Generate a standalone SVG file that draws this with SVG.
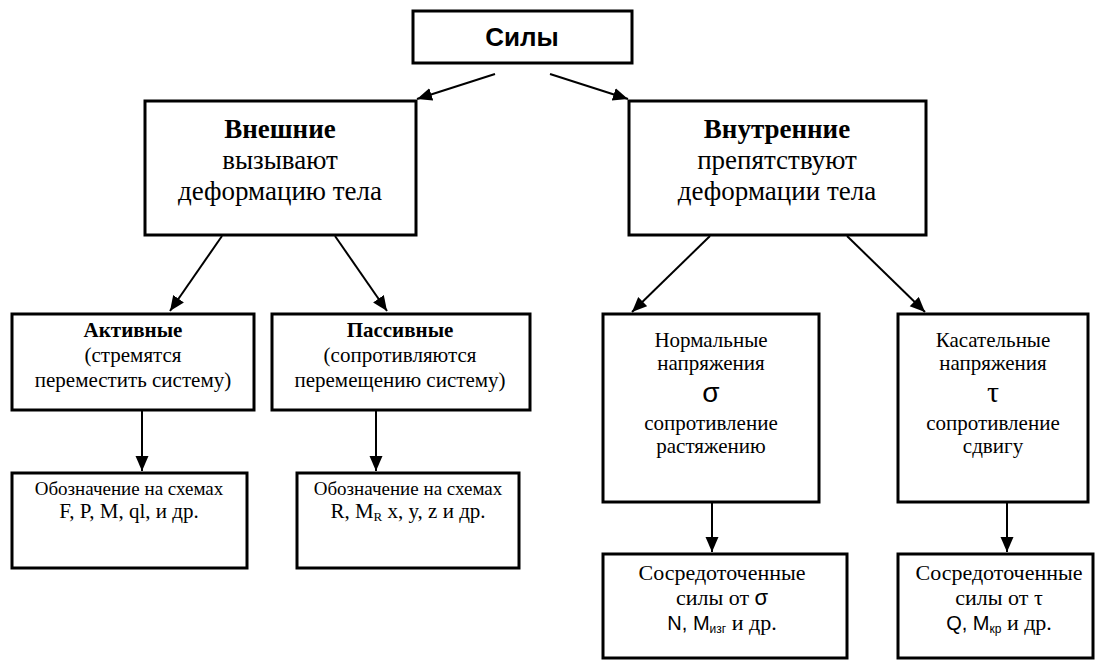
<svg xmlns="http://www.w3.org/2000/svg" width="1111" height="661" viewBox="0 0 1111 661">
<style>
.box{fill:#fff;stroke:#000;stroke-width:3}
.con{stroke:#000;stroke-width:2;fill:none}
</style>
<defs>
<marker id="ah" markerUnits="userSpaceOnUse" markerWidth="16" markerHeight="14" refX="15" refY="6.5" orient="auto">
<path d="M0,0 L15,6.5 L0,13 z" fill="#000"/>
</marker>
</defs>
<rect width="1111" height="661" fill="#fff"/>
<g id="connectors">
<line class="con" x1="495" y1="74" x2="417" y2="99" marker-end="url(#ah)"/>
<line class="con" x1="550" y1="74" x2="628" y2="99" marker-end="url(#ah)"/>
<line class="con" x1="222" y1="236" x2="170" y2="311" marker-end="url(#ah)"/>
<line class="con" x1="335" y1="236" x2="387" y2="311" marker-end="url(#ah)"/>
<line class="con" x1="710" y1="236" x2="632" y2="312" marker-end="url(#ah)"/>
<line class="con" x1="847" y1="236" x2="925" y2="312" marker-end="url(#ah)"/>
<line class="con" x1="142" y1="411" x2="142" y2="471" marker-end="url(#ah)"/>
<line class="con" x1="376" y1="411" x2="376" y2="471" marker-end="url(#ah)"/>
<line class="con" x1="712" y1="503" x2="712" y2="552" marker-end="url(#ah)"/>
<line class="con" x1="1007" y1="503" x2="1007" y2="552" marker-end="url(#ah)"/>
</g>
<g id="vneshnie">
<rect class="box" x="145" y="101" width="271" height="134"/>
<text x="280" y="138" font-size="27" font-family="'Liberation Serif', Tinos, 'Noto Serif', 'DejaVu Serif', serif" text-anchor="middle"><tspan font-weight="bold">Внешние</tspan><tspan x="280" dy="31">вызывают</tspan><tspan x="280" dy="31">деформацию тела</tspan></text>
</g>
<g id="vnutrennie">
<rect class="box" x="629" y="101" width="297" height="134"/>
<text x="777" y="138" font-size="27" font-family="'Liberation Serif', Tinos, 'Noto Serif', 'DejaVu Serif', serif" text-anchor="middle"><tspan font-weight="bold">Внутренние</tspan><tspan x="777" dy="31">препятствуют</tspan><tspan x="777" dy="31">деформации тела</tspan></text>
</g>
<g id="aktivnye">
<rect class="box" x="12" y="314" width="242" height="96"/>
<text x="133" y="337" font-size="21" font-family="'Liberation Serif', Tinos, 'Noto Serif', 'DejaVu Serif', serif" text-anchor="middle"><tspan font-weight="bold">Активные</tspan><tspan x="133" dy="25">(стремятся</tspan><tspan x="133" dy="25">переместить систему)</tspan></text>
</g>
<g id="passivnye">
<rect class="box" x="272" y="314" width="258" height="96"/>
<text x="400" y="337" font-size="21" font-family="'Liberation Serif', Tinos, 'Noto Serif', 'DejaVu Serif', serif" text-anchor="middle"><tspan font-weight="bold">Пассивные</tspan><tspan x="400" dy="25">(сопротивляются</tspan><tspan x="400" dy="25">перемещению систему)</tspan></text>
</g>
<g id="normalnye">
<rect class="box" x="603" y="314" width="216" height="188"/>
<text x="711" y="347" font-size="21" font-family="'Liberation Serif', Tinos, 'Noto Serif', 'DejaVu Serif', serif" text-anchor="middle"><tspan>Нормальные</tspan><tspan x="711" dy="23">напряжения</tspan><tspan x="711" dy="32" font-family="'Liberation Sans', sans-serif" font-size="28">σ</tspan><tspan x="711" dy="28">сопротивление</tspan><tspan x="711" dy="23">растяжению</tspan></text>
</g>
<g id="kasatelnye">
<rect class="box" x="898" y="314" width="190" height="188"/>
<text x="993" y="347" font-size="21" font-family="'Liberation Serif', Tinos, 'Noto Serif', 'DejaVu Serif', serif" text-anchor="middle"><tspan>Касательные</tspan><tspan x="993" dy="23">напряжения</tspan><tspan x="993" dy="32" font-size="30">τ</tspan><tspan x="993" dy="28">сопротивление</tspan><tspan x="993" dy="23">сдвигу</tspan></text>
</g>
<g id="oboz1">
<rect class="box" x="12" y="473" width="235" height="95"/>
<text x="129" y="495" font-size="21" font-family="'Liberation Serif', Tinos, 'Noto Serif', 'DejaVu Serif', serif" text-anchor="middle"><tspan font-size="19">Обозначение на схемах</tspan><tspan x="129" dy="23">F, P, M, ql, и др.</tspan></text>
</g>
<g id="oboz2">
<rect class="box" x="297" y="473" width="222" height="95"/>
<text x="408" y="495" font-size="21" font-family="'Liberation Serif', Tinos, 'Noto Serif', 'DejaVu Serif', serif" text-anchor="middle"><tspan font-size="19">Обозначение на схемах</tspan><tspan x="408" dy="23">R, M<tspan font-size="13" dy="3">R</tspan><tspan dy="-3"> x, y, z и др.</tspan></tspan></text>
</g>
<g id="sosr1">
<rect class="box" x="603" y="554" width="244" height="104"/>
<text x="722" y="580" font-size="22" font-family="'Liberation Serif', Tinos, 'Noto Serif', 'DejaVu Serif', serif" text-anchor="middle"><tspan>Сосредоточенные</tspan><tspan x="722" dy="25">силы от <tspan font-family="'Liberation Sans', sans-serif">σ</tspan></tspan><tspan x="722" dy="25"><tspan font-family="'Liberation Sans', sans-serif" font-size="20">N, M</tspan><tspan font-family="'Liberation Sans', sans-serif" font-size="12" dy="3">изг</tspan><tspan dy="-3"> и др.</tspan></tspan></text>
</g>
<g id="sosr2">
<rect class="box" x="898" y="554" width="195" height="104"/>
<text x="999" y="580" font-size="22" font-family="'Liberation Serif', Tinos, 'Noto Serif', 'DejaVu Serif', serif" text-anchor="middle"><tspan>Сосредоточенные</tspan><tspan x="999" dy="25">силы от τ</tspan><tspan x="999" dy="25"><tspan font-family="'Liberation Sans', sans-serif" font-size="20">Q, M</tspan><tspan font-family="'Liberation Sans', sans-serif" font-size="12" dy="3">кр</tspan><tspan dy="-3"> и др.</tspan></tspan></text>
</g>
<g id="sily">
<rect class="box" x="413" y="11" width="219" height="52"/>
<text x="522" y="46" font-size="26" font-family="'Liberation Sans', sans-serif" font-weight="bold" text-anchor="middle">Силы</text>
</g>
</svg>
